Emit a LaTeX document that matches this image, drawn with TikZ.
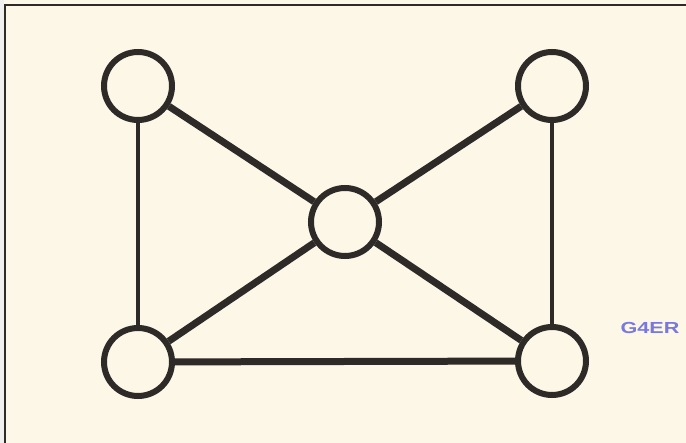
\documentclass[tikz,border=0pt]{standalone}
\usepackage{fontspec}
\newfontfamily\labelfont{Liberation Sans}
\definecolor{paper}{HTML}{FCF7E6}
\definecolor{ink}{HTML}{2E2A27}
\definecolor{tagblue}{HTML}{7878E0}
\tikzset{
  vtx/.style={circle, draw=ink, line width=6pt, minimum size=68pt, inner sep=0pt, fill=paper},
  thin edge/.style={draw=ink, line width=4.5pt},
  thick edge/.style={draw=ink, line width=7pt},
  frame line/.style={draw=ink, line width=2pt}
}
\begin{document}
\begin{tikzpicture}[x=1pt, y=-1pt]
  \useasboundingbox (0,0) rectangle (686,443);
  \fill[paper] (0,0) rectangle (686,443);
  \fill[black!6] (0,0) rectangle (4,443);
  % frame
  \coordinate (fbl) at (5,443);
  \coordinate (ftl) at (5,5);
  \coordinate (ftr) at (686,5);
  \draw[frame line] (fbl) -- (ftl) -- (ftr);
  % vertices
  \node[vtx] (tl) at (138,86) {};
  \node[vtx] (tr) at (552,86) {};
  \node[vtx] (c)  at (345,222) {};
  \node[vtx] (bl) at (138,362) {};
  \node[vtx] (br) at (552,361) {};
  % edges
  \draw[thin edge] (tl) -- (bl);
  \draw[thin edge] (tr) -- (br);
  \draw[thick edge] (tl) -- (c);
  \draw[thick edge] (tr) -- (c);
  \draw[thick edge] (bl) -- (c);
  \draw[thick edge] (br) -- (c);
  \draw[thick edge] (bl) -- (br);
  % tag
  \node[text=tagblue, inner sep=0pt, anchor=center, xscale=1.35] (tag) at (650,327.5)
    {\labelfont\bfseries\fontsize{16}{16}\selectfont G4ER};
\end{tikzpicture}
\end{document}
